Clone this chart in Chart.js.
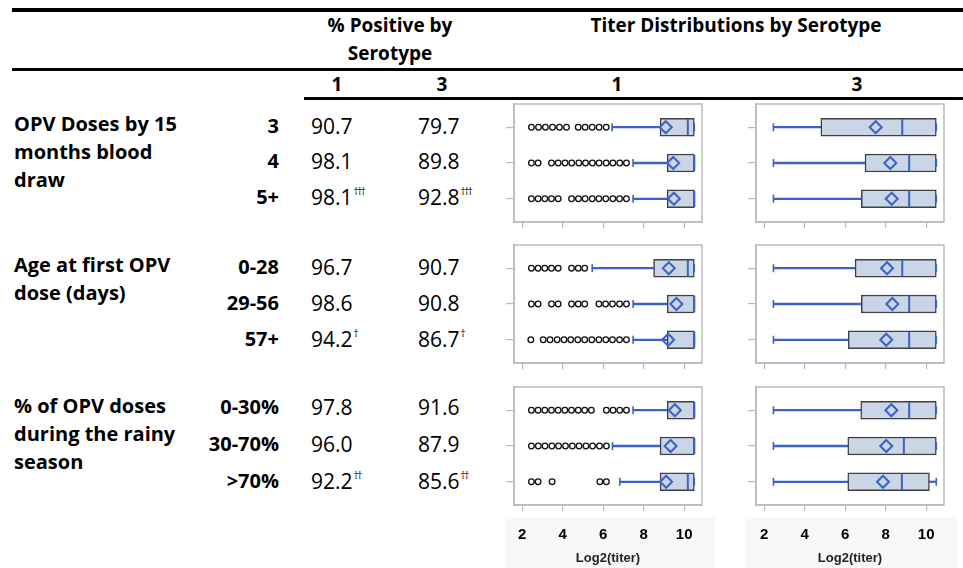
<!DOCTYPE html>
<html>
<head>
<meta charset="utf-8">
<script src="https://cdn.jsdelivr.net/npm/chart.js@4.4.0/dist/chart.umd.min.js"></script>
<style>
  body { margin: 0; background: #fff; }
  #page { position: relative; width: 963px; height: 568px; overflow: hidden; font-family: 'Open Sans', sans-serif; color: #000; }
  .t { position: absolute; white-space: nowrap; }
  .rule { position: absolute; background: #000; }
  .panel { position: absolute; }
  .shade { position: absolute; background: #f8f8f8; }
</style>
</head>
<body>
<div id="page"></div>
<script>
// ---- table text ----
const groupTitles = [
    ['OPV Doses by 15', 'months blood', 'draw'],
    ['Age at first OPV', 'dose (days)'],
    ['% of OPV doses', 'during the rainy', 'season']
];
const levelLabels = [['3', '4', '5+'], ['0-28', '29-56', '57+'], ['0-30%', '30-70%', '>70%']];
const serotypes = ['1', '3'];

// % positive by serotype
const pctPos1 = [[90.7, 98.1, 98.1], [96.7, 98.6, 94.2], [97.8, 96.0, 92.2]];
const pctPos3 = [[79.7, 89.8, 92.8], [90.7, 90.8, 86.7], [91.6, 87.9, 85.6]];
const pctSig = [['', '', '†††'], ['', '', '†'], ['', '', '††']];

// titer distributions, log2(titer)
const xTicks = [2, 4, 6, 8, 10];

const s1Min = [[6.44, 7.48, 7.48], [5.46, 7.48, 7.48], [7.48, 6.46, 6.82]];
const s1Q1 = [[8.81, 9.16, 9.16], [8.49, 9.16, 9.16], [9.16, 8.81, 8.81]];
const s1Median = [[10.18, 10.5, 10.5], [10.18, 10.5, 10.5], [10.5, 10.5, 10.18]];
const s1Q3 = [[10.5, 10.5, 10.5], [10.5, 10.5, 10.5], [10.5, 10.5, 10.5]];
const s1Max = [[10.5, 10.5, 10.5], [10.5, 10.5, 10.5], [10.5, 10.5, 10.5]];
const s1Mean = [[9.09, 9.46, 9.49], [9.24, 9.62, 9.21], [9.54, 9.33, 9.11]];
const s1Outliers = [
    [
        [2.46, 2.81, 3.15, 3.50, 3.84, 4.19, 4.77, 5.11, 5.46, 5.80, 6.15],
        [2.46, 2.79, 3.45, 3.78, 4.12, 4.45, 4.80, 5.13, 5.47, 5.80, 6.15, 6.48, 6.82, 7.15],
        [2.46, 2.79, 3.12, 3.45, 3.78, 4.44, 4.78, 5.11, 5.46, 5.79, 6.13, 6.48, 6.81, 7.15]
    ],
    [
        [2.46, 2.79, 3.12, 3.45, 3.78, 4.44, 4.77, 5.09],
        [2.46, 2.79, 3.45, 3.78, 4.44, 4.77, 5.09, 5.79, 6.12, 6.46, 6.81, 7.15],
        [2.43, 3.04, 3.38, 3.73, 4.07, 4.40, 4.75, 5.09, 5.44, 5.79, 6.13, 6.46, 6.81, 7.15]
    ],
    [
        [2.46, 2.79, 3.12, 3.45, 3.78, 4.11, 4.44, 4.77, 5.09, 5.42, 6.16, 6.49, 6.82, 7.15],
        [2.46, 2.80, 3.13, 3.47, 3.80, 4.14, 4.48, 4.81, 5.15, 5.48, 5.82, 6.16],
        [2.46, 2.79, 3.48, 5.84, 6.16]
    ]
];

const s3Min = [[2.46, 2.46, 2.46], [2.46, 2.46, 2.46], [2.46, 2.46, 2.46]];
const s3Q1 = [[4.80, 6.98, 6.80], [6.49, 6.80, 6.15], [6.77, 6.13, 6.13]];
const s3Median = [[8.82, 9.16, 9.16], [8.82, 9.16, 9.16], [9.16, 8.90, 8.80]];
const s3Q3 = [[10.5, 10.5, 10.5], [10.5, 10.5, 10.5], [10.5, 10.5, 10.16]];
const s3Max = [[10.5, 10.5, 10.5], [10.5, 10.5, 10.5], [10.5, 10.5, 10.5]];
const s3Mean = [[7.51, 8.23, 8.30], [8.07, 8.33, 8.03], [8.28, 8.03, 7.87]];
const s3Outliers = [[[], [], []], [[], [], []], [[], [], []]];

// ---- layout ----
const page = document.getElementById('page');
const rowY = [[127, 162, 198], [268, 304, 340], [408, 445, 482]];
const titleY = [125, 266, 407];
const panelTop = [104, 245, 387];
const colLeft = [514, 756];
const frameW = 188, frameH = 118;
const xMin = 1.6, xMax = 10.88;

const frameColor = '#bababa';
const boxFill = '#cad5e6';
const boxEdge = '#404040';
const blue = '#3a63c9';

function addText(str, x, y, size, bold, align) {
    const el = document.createElement('div');
    el.className = 't';
    el.style.fontSize = size + 'px';
    el.style.lineHeight = size + 'px';
    el.style.fontWeight = bold ? '700' : '400';
    el.style.top = (y - size * 0.53) + 'px';
    el.style.left = x + 'px';
    if (align === 'center') el.style.transform = 'translateX(-50%)';
    if (align === 'right') el.style.transform = 'translateX(-100%)';
    el.textContent = str;
    page.appendChild(el);
    return el;
}

function addRule(left, top, width, height) {
    const el = document.createElement('div');
    el.className = 'rule';
    el.style.cssText = `left:${left}px;top:${top}px;width:${width}px;height:${height}px`;
    page.appendChild(el);
}

function addValue(value, sig, x, y) {
    const el = addText(value.toFixed(1), x, y, 21, false, 'left');
    if (sig) {
        const sup = document.createElement('span');
        sup.textContent = sig;
        sup.style.cssText = 'font-size:10px;position:relative;top:-10px;letter-spacing:-1.5px;margin-left:1px;color:#000';
        el.appendChild(sup);
    }
}

// rules and headers
addRule(12, 8, 951, 4);
addRule(12, 68, 951, 3);
addRule(304, 97, 659, 2.5);

addText('% Positive by', 390, 26, 19, true, 'center');
addText('Serotype', 390, 54, 19, true, 'center');
addText('Titer Distributions by Serotype', 736, 26, 19, true, 'center');
addText(serotypes[0], 337, 85, 19, true, 'center');
addText(serotypes[1], 442, 85, 19, true, 'center');
addText(serotypes[0], 617, 85, 19, true, 'center');
addText(serotypes[1], 857, 85, 19, true, 'center');

// faint band behind the bottom axis labels
[[505, 210], [745, 212]].forEach(([l, w]) => {
    const el = document.createElement('div');
    el.className = 'shade';
    el.style.cssText = `left:${l}px;top:517px;width:${w}px;height:51px`;
    page.appendChild(el);
});

groupTitles.forEach((lines, g) => {
    lines.forEach((line, k) => addText(line, 14, titleY[g] + k * 28, 20, true, 'left'));
    levelLabels[g].forEach((lab, i) => {
        addText(lab, 279, rowY[g][i], 20, true, 'right');
        addValue(pctPos1[g][i], pctSig[g][i], 311, rowY[g][i]);
        addValue(pctPos3[g][i], pctSig[g][i], 418, rowY[g][i]);
    });
});

// ---- box plot panels ----
const framePlugin = {
    id: 'frame',
    beforeDatasetsDraw(chart) {
        const { ctx, chartArea: a } = chart;
        ctx.save();
        ctx.strokeStyle = frameColor;
        ctx.lineWidth = 1.5;
        ctx.strokeRect(a.left, a.top, a.right - a.left, a.bottom - a.top);
        ctx.restore();
    }
};

const stats = [
    { min: s1Min, q1: s1Q1, med: s1Median, q3: s1Q3, max: s1Max, mean: s1Mean, out: s1Outliers },
    { min: s3Min, q1: s3Q1, med: s3Median, q3: s3Q3, max: s3Max, mean: s3Mean, out: s3Outliers }
];

function boxPanel(st, g, left, top, bottomAxis) {
    const rows = [0, 1, 2];
    const yTick = 8, xTick = 6;
    const div = document.createElement('div');
    div.className = 'panel';
    const h = bottomAxis ? 568 - (top - 1) : frameH + 1 + xTick;
    const xAxisH = h - 1 - frameH;
    div.style.cssText = `left:${left - yTick}px;top:${top - 1}px;width:${frameW + yTick + 2}px;height:${h}px`;
    const canvas = document.createElement('canvas');
    div.appendChild(canvas);
    page.appendChild(div);

    const pts = (arr) => rows.map(i => ({ x: arr[g][i], y: i }));

    new Chart(canvas, {
        type: 'scatter',
        data: {
            datasets: [
                {
                    type: 'bar', indexAxis: 'y', grouped: false, barThickness: 1.6, order: 8,
                    data: rows.map(i => ({ x: [st.min[g][i], st.q1[g][i]], y: i })),
                    backgroundColor: blue, borderWidth: 0
                },
                {
                    type: 'bar', indexAxis: 'y', grouped: false, barThickness: 1.6, order: 8,
                    data: rows.map(i => ({ x: [st.q3[g][i], st.max[g][i]], y: i })),
                    backgroundColor: blue, borderWidth: 0
                },
                {
                    type: 'bar', indexAxis: 'y', grouped: false, barThickness: 18, order: 7,
                    data: rows.map(i => ({ x: [st.q1[g][i], st.q3[g][i]], y: i })),
                    backgroundColor: boxFill, borderColor: boxEdge, borderWidth: 1.5, borderSkipped: false
                },
                {
                    data: pts(st.min).concat(pts(st.max)), order: 4,
                    pointStyle: 'line', rotation: 90, radius: 4,
                    borderColor: blue, borderWidth: 1.6
                },
                {
                    data: pts(st.med), order: 3,
                    pointStyle: 'line', rotation: 90, radius: 8.2,
                    borderColor: blue, borderWidth: 2
                },
                {
                    data: pts(st.mean), order: 1,
                    pointStyle: 'rectRot', radius: 6,
                    borderColor: blue, borderWidth: 2, backgroundColor: 'rgba(0,0,0,0)'
                },
                {
                    data: rows.flatMap(i => st.out[g][i].map(v => ({ x: v, y: i }))), order: 2,
                    pointStyle: 'circle', radius: 2.8,
                    borderColor: '#111', borderWidth: 1.3, backgroundColor: 'rgba(0,0,0,0)'
                }
            ]
        },
        options: {
            responsive: true,
            maintainAspectRatio: false,
            animation: false,
            events: [],
            layout: { autoPadding: false, padding: { top: 1, right: 2, left: 0, bottom: 0 } },
            plugins: { legend: { display: false }, tooltip: { enabled: false } },
            scales: {
                x: {
                    type: 'linear', min: xMin, max: xMax, offset: false, beginAtZero: false,
                    afterBuildTicks: axis => { axis.ticks = xTicks.map(v => ({ value: v })); },
                    afterFit: axis => {
                        axis.height = xAxisH;
                        axis.paddingLeft = 0; axis.paddingRight = 0;
                        axis.paddingTop = 0; axis.paddingBottom = 0;
                    },
                    grid: { drawOnChartArea: false, offset: false, tickLength: xTick, color: frameColor, lineWidth: 1.2 },
                    border: { color: frameColor, width: 1.5 },
                    ticks: {
                        display: bottomAxis, padding: 15, color: '#000', maxRotation: 0,
                        font: { family: "'Liberation Sans', Arial, sans-serif", size: 15, weight: 'bold' }
                    },
                    title: {
                        display: bottomAxis, text: 'Log2(titer)', color: '#222',
                        font: { family: "'Liberation Sans', Arial, sans-serif", size: 13, weight: 'bold' },
                        padding: { top: 7.4, bottom: 2.2 }
                    }
                },
                y: {
                    type: 'linear', min: -0.65, max: 2.65, reverse: true, offset: false,
                    afterBuildTicks: axis => { axis.ticks = rows.map(v => ({ value: v })); },
                    afterFit: axis => { axis.width = yTick; },
                    grid: { drawOnChartArea: false, offset: false, tickLength: yTick, color: frameColor, lineWidth: 1.2 },
                    border: { color: frameColor, width: 1.5 },
                    ticks: { display: false }
                }
            }
        },
        plugins: [framePlugin]
    });
}

panelTop.forEach((top, g) => {
    colLeft.forEach((left, c) => boxPanel(stats[c], g, left, top, g === panelTop.length - 1));
});
</script>
</body>
</html>
